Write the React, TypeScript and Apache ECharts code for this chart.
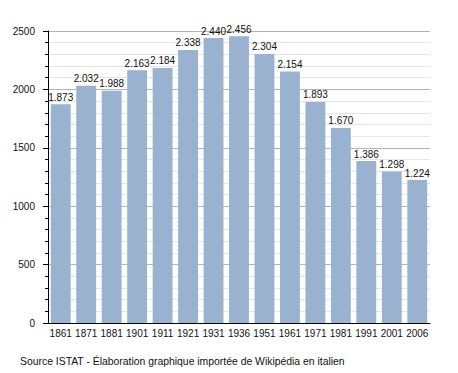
import React, { useEffect, useRef } from "react";
import * as echarts from "echarts";

const years = ["1861", "1871", "1881", "1901", "1911", "1921", "1931", "1936", "1951", "1961", "1971", "1981", "1991", "2001", "2006"];
const population = [1873, 2032, 1988, 2163, 2184, 2338, 2440, 2456, 2304, 2154, 1893, 1670, 1386, 1298, 1224];
const yTicks = { min: 0, max: 2500, interval: 500 };
const caption = "Source ISTAT - Élaboration graphique importée de Wikipédia en italien";

const fmt = (v: number) => String(v).replace(/\B(?=(\d{3})+(?!\d))/g, ".");

export default function App() {
  const ref = useRef<HTMLDivElement>(null);
  useEffect(() => {
    if (!ref.current) return;
    const chart = echarts.init(ref.current, null, { renderer: "svg" });
    const font = "'Liberation Sans', Arial, sans-serif";
    chart.setOption({
      animation: false,
      backgroundColor: "#ffffff",
      textStyle: { fontFamily: font },
      grid: { left: 48, right: 28, top: 31, bottom: 50, containLabel: false },
      xAxis: {
        type: "category",
        data: years,
        axisLine: { lineStyle: { color: "#000", width: 1 } },
        axisTick: { show: false },
        axisLabel: { color: "#111", fontSize: 10, fontFamily: font, margin: 5, interval: 0 },
      },
      yAxis: {
        type: "value",
        min: yTicks.min,
        max: yTicks.max,
        interval: yTicks.interval,
        axisLine: { show: true, lineStyle: { color: "#000", width: 1 } },
        axisTick: { show: true, length: 5, lineStyle: { color: "#000" } },
        minorTick: { show: true, splitNumber: 5, length: 3, lineStyle: { color: "#000" } },
        axisLabel: { color: "#111", fontSize: 10, fontFamily: font, margin: 13, formatter: (v: number) => String(v) },
        splitLine: { show: true, lineStyle: { color: "#b4b4b4", width: 1 } },
        minorSplitLine: { show: true, lineStyle: { color: "#e4e4e4", width: 1 } },
      },
      series: [
        {
          type: "bar",
          data: population,
          barCategoryGap: "22%",
          itemStyle: { color: "#98b2cf" },
          label: {
            show: true,
            position: "top",
            distance: 2,
            color: "#111",
            fontSize: 10,
            fontFamily: font,
            formatter: (p: any) => fmt(p.value),
          },
        },
      ],
      graphic: [
        {
          type: "text",
          left: 20,
          top: 356,
          style: { text: caption, fontSize: 10.4, fontFamily: font, fill: "#111" },
        },
      ],
    });
    return () => chart.dispose();
  }, []);
  return <div ref={ref} style={{ position: "fixed", left: 0, top: 0, width: 458, height: 373 }} />;
}
